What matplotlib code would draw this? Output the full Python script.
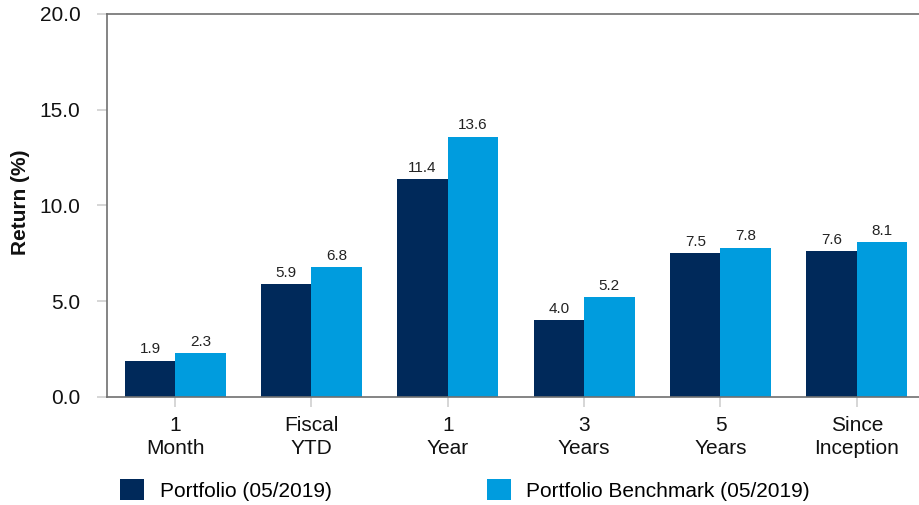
import numpy as np
import matplotlib
matplotlib.use("Agg")
import matplotlib.pyplot as plt

plt.rcParams['font.family'] = ['Liberation Sans', 'DejaVu Sans']

# data
categories = ["1\nMonth", "Fiscal\nYTD", "1\nYear", "3\nYears", "5\nYears", "Since\nInception"]
portfolio = [1.9, 5.9, 11.4, 4.0, 7.5, 7.6]
benchmark = [2.3, 6.8, 13.6, 5.2, 7.8, 8.1]
series_names = ["Portfolio (05/2019)", "Portfolio Benchmark (05/2019)"]
y_ticks = [0, 5, 10, 15, 20]

navy = "#00295A"
light = "#009CDE"

fig = plt.figure(figsize=(9.2, 5.05), dpi=100)
# axes runs a bit past the right edge like the original
ax = fig.add_axes([107 / 920, 108 / 505, 818 / 920, 383 / 505])

x = np.arange(len(categories))
w = 0.37
b1 = ax.bar(x - w / 2, portfolio, w, color=navy, label=series_names[0])
b2 = ax.bar(x + w / 2, benchmark, w, color=light, label=series_names[1])

for bars in (b1, b2):
    for r in bars:
        ax.annotate(f"{r.get_height():.1f}", (r.get_x() + r.get_width() / 2, r.get_height()),
                    xytext=(0, 3), textcoords="offset points",
                    ha="center", va="bottom", fontsize=11, color="#222222")

ax.set_xlim(-0.5, len(categories) - 0.5)
ax.set_ylim(0, 20)
ax.set_yticks(y_ticks)
ax.set_yticklabels([f"{v:.1f}" for v in y_ticks])
ax.set_xticks(x)
ax.set_xticklabels(categories, linespacing=1.25)

ax.tick_params(axis="both", colors="#d0d0d0", labelcolor="#111111",
               labelsize=15, length=7, width=1.2)
ax.tick_params(axis="x", pad=7)
ax.tick_params(axis="y", pad=12)

for side in ["left", "bottom", "top", "right"]:
    ax.spines[side].set_color("#707070")
    ax.spines[side].set_linewidth(1.2)

fig.text(21 / 920, 1 - 202 / 505, "Return (%)", rotation=90, ha="center", va="center",
         fontsize=15, fontweight="bold", color="#111111")

fig.legend(handles=[b1, b2], labels=series_names, loc="center left",
           bbox_to_anchor=(120 / 920, 1 - 490 / 505), ncol=2, frameon=False,
           fontsize=15, handlelength=1.15, handleheight=1.15,
           handletextpad=0.75, columnspacing=7.45, borderaxespad=0, borderpad=0)

fig.savefig("out.png", dpi=100)
